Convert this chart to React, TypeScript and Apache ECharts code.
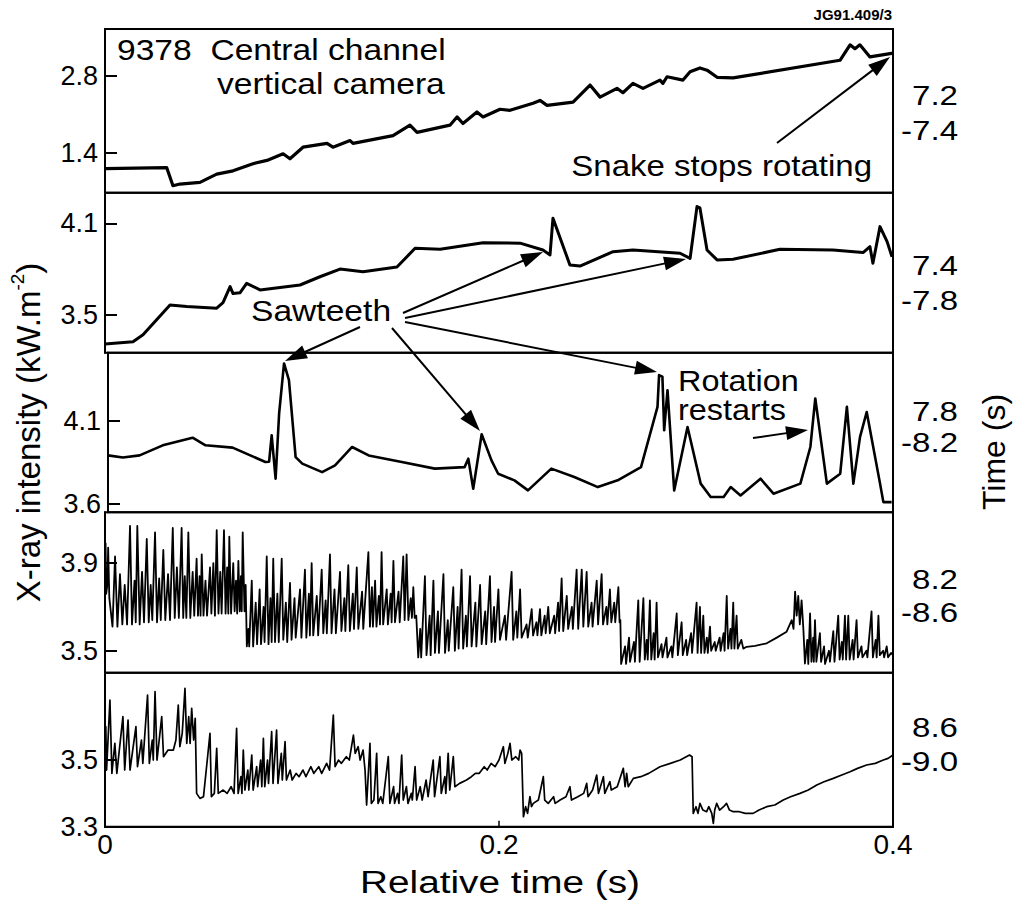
import React, { useEffect, useRef } from "react";
import * as echarts from "echarts";

const FONT = "'Liberation Sans', Arial, Helvetica, sans-serif";

// ---------- data ----------
const xTicks = [0, 0.2, 0.4];

const p1Ticks = [1.4, 2.8];
const p2Ticks = [3.5, 4.1];
const p3Ticks = [3.6, 4.1];
const p4Ticks = [3.5, 3.9];
const p5Ticks = [3.3, 3.5];

const timeWindows = [
  ["7.2", "-7.4"],
  ["7.4", "-7.8"],
  ["7.8", "-8.2"],
  ["8.2", "-8.6"],
  ["8.6", "-9.0"],
];

// Panel 1: central channel, vertical camera
const panel1: [number, number][] = [
  [0, 1.12], [0.0313, 1.14], [0.0345, 0.81], [0.038, 0.84], [0.0482, 0.87], [0.0567, 1.02],
  [0.065, 1.08], [0.0751, 1.21], [0.0822, 1.27], [0.0904, 1.39], [0.0939, 1.3], [0.1005, 1.51],
  [0.1127, 1.58], [0.1157, 1.51], [0.1244, 1.63], [0.1259, 1.58], [0.1462, 1.72], [0.1548, 1.91],
  [0.1584, 1.78], [0.1751, 1.91], [0.1787, 2.06], [0.1817, 1.94], [0.1888, 2.15], [0.1919, 2.06],
  [0.2005, 2.2], [0.2056, 2.18], [0.2173, 2.31], [0.2208, 2.36], [0.2244, 2.27], [0.2376, 2.33],
  [0.2462, 2.64], [0.2513, 2.42], [0.2599, 2.58], [0.2629, 2.5], [0.268, 2.67], [0.2731, 2.58],
  [0.2817, 2.73], [0.2832, 2.67], [0.2853, 2.79], [0.2934, 2.73], [0.297, 2.88], [0.302, 2.95],
  [0.3056, 2.91], [0.3107, 2.78], [0.3188, 2.77], [0.3731, 3.09], [0.3782, 3.37], [0.3807, 3.3],
  [0.3832, 3.37], [0.3883, 3.15], [0.3985, 3.21], [0.4, 3.22],
];

// Panel 2: 7.4 - 7.8 s
const panel2: [number, number][] = [
  [0, 3.31], [0.0142, 3.325], [0.0193, 3.37], [0.033, 3.565], [0.0415, 3.555], [0.0567, 3.544],
  [0.0599, 3.58], [0.0635, 3.685], [0.065, 3.64], [0.0685, 3.645], [0.0719, 3.707], [0.0787, 3.664],
  [0.099, 3.696], [0.1091, 3.75], [0.1193, 3.8], [0.131, 3.783], [0.1482, 3.814], [0.1574, 3.936],
  [0.1701, 3.93], [0.1919, 3.973], [0.2107, 3.97], [0.2223, 3.925], [0.2259, 3.893], [0.2274, 4.133],
  [0.236, 3.827], [0.2411, 3.82], [0.2579, 3.914], [0.268, 3.925], [0.2919, 3.904], [0.297, 3.87],
  [0.3005, 4.209], [0.302, 4.2], [0.3056, 3.925], [0.3107, 3.86], [0.3188, 3.864], [0.3426, 3.93],
  [0.3695, 3.925], [0.3848, 3.908], [0.3883, 3.947], [0.3898, 3.838], [0.3934, 4.078], [0.397, 3.98],
  [0.3995, 3.88],
];

// Panel 3: 7.8 - 8.2 s
const panel3: [number, number][] = [
  [0, 3.893], [0.0076, 3.88], [0.0161, 3.893], [0.0279, 3.954], [0.0431, 4.0], [0.0497, 3.954],
  [0.0635, 3.94], [0.0802, 3.853], [0.0821, 3.855], [0.0834, 4.015], [0.0854, 3.752], [0.0872, 4.147],
  [0.0897, 4.45], [0.0922, 4.349], [0.0956, 3.883], [0.099, 3.843], [0.1091, 3.792], [0.1157, 3.833],
  [0.1244, 3.944], [0.1328, 3.893], [0.1497, 3.853], [0.1665, 3.813], [0.1817, 3.822], [0.1836, 3.873],
  [0.1861, 3.691], [0.1904, 4.021], [0.1954, 3.863], [0.1988, 3.782], [0.2071, 3.742], [0.214, 3.681],
  [0.2259, 3.813], [0.2376, 3.762], [0.2496, 3.701], [0.2597, 3.742], [0.2716, 3.822], [0.28, 4.187],
  [0.2808, 4.379], [0.2825, 4.37], [0.2834, 4.045], [0.2851, 4.288], [0.2885, 3.681], [0.2953, 4.065],
  [0.302, 3.722], [0.3071, 3.641], [0.3137, 3.641], [0.3173, 3.701], [0.3223, 3.65], [0.3325, 3.752],
  [0.3391, 3.661], [0.3528, 3.722], [0.3579, 3.944], [0.3604, 4.238], [0.3663, 3.722], [0.3731, 3.782],
  [0.3765, 4.187], [0.3798, 3.722], [0.3832, 4.005], [0.3866, 4.156], [0.3934, 3.722], [0.3951, 3.61],
  [0.3993, 3.61],
];

// Panel 4: 8.2 - 8.6 s (dense sawteeth)
const panel4: [number, number][] = [
  [0, 3.73], [0.0003, 3.99], [0.0006, 3.76], [0.0012, 3.8], [0.0016, 3.97], [0.0022, 3.74], [0.0038, 3.61],
  [0.0051, 3.93], [0.0063, 3.61], [0.0076, 3.85], [0.0088, 3.62], [0.01, 3.8], [0.0112, 3.62],
  [0.0127, 4.07], [0.0137, 3.62], [0.015, 3.82], [0.0156, 3.63], [0.0164, 4.07], [0.0176, 3.62],
  [0.0188, 3.86], [0.0198, 3.63], [0.0212, 4.01], [0.0222, 3.63], [0.0232, 3.8], [0.024, 3.64],
  [0.0254, 4.04], [0.0264, 3.63], [0.0275, 3.83], [0.0283, 3.64], [0.0296, 3.96], [0.0306, 3.64],
  [0.032, 3.85], [0.033, 3.64], [0.0344, 4.06], [0.0354, 3.65], [0.0365, 3.88], [0.0375, 3.65],
  [0.0389, 4.06], [0.0397, 3.65], [0.0405, 3.84], [0.0413, 3.65], [0.0423, 4.04], [0.0433, 3.65],
  [0.0445, 3.86], [0.0453, 3.66], [0.0465, 3.92], [0.0472, 3.66], [0.048, 3.84], [0.0485, 3.66],
  [0.0491, 3.94], [0.05, 3.66], [0.051, 3.82], [0.0518, 3.66], [0.0533, 3.88], [0.054, 3.67],
  [0.055, 3.9], [0.0558, 3.66], [0.0567, 4.05], [0.0576, 3.67], [0.0585, 3.86], [0.0592, 3.67],
  [0.0604, 4.05], [0.0612, 3.67], [0.062, 3.88], [0.0626, 3.67], [0.0631, 4.02], [0.064, 3.67],
  [0.0651, 3.9], [0.0658, 3.68], [0.0665, 3.82], [0.0671, 3.67], [0.0677, 3.91], [0.0684, 3.68],
  [0.069, 3.84], [0.0694, 3.68], [0.0699, 4.04], [0.0708, 3.68], [0.0714, 3.8], [0.072, 3.52],
  [0.0728, 3.6], [0.0732, 3.52], [0.0745, 3.82], [0.0752, 3.52], [0.0765, 3.72], [0.0772, 3.53],
  [0.0785, 3.78], [0.0792, 3.53], [0.0805, 3.7], [0.081, 3.54], [0.0821, 3.93], [0.083, 3.53],
  [0.084, 3.74], [0.0846, 3.54], [0.0854, 3.92], [0.0863, 3.54], [0.0875, 3.76], [0.0882, 3.54],
  [0.0897, 3.92], [0.0905, 3.55], [0.0918, 3.72], [0.0925, 3.54], [0.0939, 3.81], [0.0947, 3.55],
  [0.0962, 3.74], [0.0968, 3.56], [0.099, 3.78], [0.0997, 3.56], [0.1015, 3.87], [0.1022, 3.56],
  [0.1035, 3.76], [0.104, 3.57], [0.1049, 3.9], [0.1057, 3.57], [0.1075, 3.75], [0.1082, 3.57],
  [0.11, 3.87], [0.1108, 3.58], [0.112, 3.73], [0.1126, 3.58], [0.1142, 3.94], [0.115, 3.58],
  [0.1165, 3.78], [0.1172, 3.58], [0.1193, 3.86], [0.12, 3.59], [0.1215, 3.74], [0.122, 3.59],
  [0.1235, 3.89], [0.1243, 3.59], [0.1258, 3.76], [0.1264, 3.6], [0.1278, 3.88], [0.1286, 3.6],
  [0.1305, 3.77], [0.1311, 3.6], [0.1337, 3.95], [0.1345, 3.61], [0.1355, 3.79], [0.136, 3.61],
  [0.1371, 3.82], [0.1378, 3.61], [0.139, 3.75], [0.1396, 3.62], [0.1404, 3.95], [0.1412, 3.62],
  [0.143, 3.78], [0.1436, 3.62], [0.145, 3.76], [0.1455, 3.63], [0.1464, 3.91], [0.1472, 3.63],
  [0.149, 3.77], [0.1496, 3.63], [0.1514, 3.93], [0.1521, 3.64], [0.1531, 3.94], [0.154, 3.64],
  [0.1552, 3.74], [0.1558, 3.65], [0.1565, 3.79], [0.1572, 3.65], [0.158, 3.66], [0.159, 3.47],
  [0.16, 3.6], [0.1605, 3.47], [0.1624, 3.84], [0.1632, 3.48], [0.1648, 3.66], [0.1653, 3.48],
  [0.1667, 3.82], [0.1675, 3.49], [0.169, 3.68], [0.1695, 3.49], [0.1718, 3.85], [0.1726, 3.49],
  [0.174, 3.64], [0.1745, 3.5], [0.1768, 3.79], [0.1776, 3.5], [0.179, 3.7], [0.1795, 3.51],
  [0.181, 3.87], [0.1818, 3.51], [0.1832, 3.66], [0.1837, 3.52], [0.1853, 3.84], [0.1861, 3.52],
  [0.188, 3.72], [0.1885, 3.52], [0.1904, 3.8], [0.1912, 3.53], [0.193, 3.68], [0.1935, 3.53],
  [0.1954, 3.84], [0.1962, 3.54], [0.1975, 3.7], [0.198, 3.54], [0.1997, 3.78], [0.2005, 3.55],
  [0.203, 3.66], [0.2036, 3.55], [0.2064, 3.86], [0.2072, 3.55], [0.2088, 3.68], [0.2093, 3.56],
  [0.2107, 3.78], [0.2115, 3.56], [0.214, 3.62], [0.2146, 3.56], [0.2166, 3.69], [0.2173, 3.57],
  [0.219, 3.63], [0.2195, 3.57], [0.2208, 3.69], [0.2215, 3.57], [0.2232, 3.66], [0.2237, 3.58],
  [0.225, 3.7], [0.2258, 3.58], [0.228, 3.66], [0.2285, 3.58], [0.23, 3.72], [0.2305, 3.59],
  [0.2318, 3.83], [0.2326, 3.59], [0.2344, 3.75], [0.2351, 3.6], [0.237, 3.7], [0.2375, 3.6],
  [0.2394, 3.87], [0.2402, 3.6], [0.242, 3.87], [0.2428, 3.61], [0.2445, 3.86], [0.2453, 3.61],
  [0.247, 3.72], [0.2475, 3.61], [0.2496, 3.82], [0.2503, 3.62], [0.2521, 3.85], [0.2528, 3.62],
  [0.2545, 3.7], [0.255, 3.62], [0.2563, 3.78], [0.257, 3.63], [0.2585, 3.72], [0.259, 3.63],
  [0.2606, 3.79], [0.2612, 3.63], [0.2616, 3.64], [0.262, 3.44],
  [0.264, 3.52], [0.2645, 3.44], [0.266, 3.56], [0.2665, 3.45], [0.2685, 3.54], [0.269, 3.45],
  [0.2707, 3.73], [0.2714, 3.45], [0.2733, 3.74], [0.274, 3.46], [0.275, 3.55], [0.2755, 3.46],
  [0.2766, 3.73], [0.2773, 3.46], [0.2785, 3.58], [0.279, 3.46], [0.28, 3.72], [0.2807, 3.47],
  [0.2825, 3.53], [0.283, 3.47], [0.285, 3.56], [0.2855, 3.47], [0.2875, 3.52], [0.288, 3.47],
  [0.2902, 3.67], [0.2908, 3.48], [0.2927, 3.63], [0.2933, 3.48], [0.295, 3.55], [0.2955, 3.48],
  [0.2975, 3.58], [0.298, 3.49], [0.3003, 3.72], [0.3008, 3.49], [0.302, 3.7], [0.3026, 3.49],
  [0.3037, 3.66], [0.3043, 3.49], [0.3055, 3.56], [0.306, 3.49], [0.3071, 3.61], [0.3077, 3.5],
  [0.3095, 3.54], [0.31, 3.5], [0.312, 3.56], [0.3125, 3.5], [0.314, 3.58], [0.3145, 3.5],
  [0.3156, 3.75], [0.3163, 3.51], [0.3175, 3.6], [0.318, 3.51], [0.3189, 3.72], [0.3195, 3.51],
  [0.3206, 3.66], [0.3212, 3.51], [0.323, 3.55], [0.324, 3.51],
  [0.3257, 3.518], [0.33, 3.522], [0.3359, 3.534], [0.341, 3.56], [0.346, 3.587], [0.3486, 3.64],
  [0.3495, 3.6], [0.3503, 3.77], [0.3511, 3.66], [0.3519, 3.75], [0.3527, 3.62], [0.3536, 3.73],
  [0.3545, 3.6], [0.3553, 3.442],
  [0.3565, 3.55], [0.357, 3.44], [0.3579, 3.67], [0.3586, 3.45], [0.3595, 3.56], [0.3598, 3.45],
  [0.3604, 3.64], [0.3611, 3.45], [0.3629, 3.58], [0.3635, 3.45], [0.365, 3.52], [0.3655, 3.44],
  [0.3675, 3.5], [0.368, 3.45], [0.3697, 3.59], [0.3703, 3.45], [0.3722, 3.66], [0.3729, 3.46],
  [0.374, 3.54], [0.3745, 3.46], [0.3756, 3.66], [0.3762, 3.46], [0.3773, 3.66], [0.378, 3.46],
  [0.3795, 3.55], [0.38, 3.46], [0.3815, 3.64], [0.3822, 3.47], [0.384, 3.52], [0.3845, 3.47],
  [0.3865, 3.5], [0.387, 3.47], [0.3891, 3.68], [0.3898, 3.47], [0.3912, 3.55], [0.3917, 3.47],
  [0.3926, 3.66], [0.3933, 3.48], [0.395, 3.5], [0.3955, 3.47], [0.3968, 3.52], [0.3975, 3.47],
  [0.399, 3.49], [0.4, 3.48],
];

// Panel 5: 8.6 - 9.0 s
const panel5: [number, number][] = [
  [0, 3.45], [0.0004, 3.6], [0.0008, 3.47], [0.0025, 3.68], [0.0035, 3.46], [0.005, 3.55],
  [0.006, 3.46], [0.0091, 3.63], [0.01, 3.47], [0.0117, 3.62], [0.0127, 3.47], [0.0157, 3.6],
  [0.0165, 3.48], [0.0185, 3.56], [0.0192, 3.49], [0.0216, 3.695], [0.0225, 3.49], [0.024, 3.56],
  [0.0245, 3.5], [0.0254, 3.705], [0.0264, 3.5], [0.0288, 3.63], [0.0297, 3.51], [0.032, 3.53],
  [0.0347, 3.53], [0.036, 3.56], [0.0372, 3.665], [0.038, 3.54], [0.0392, 3.58], [0.0406, 3.715],
  [0.0415, 3.55], [0.0425, 3.63], [0.0432, 3.55], [0.044, 3.655], [0.045, 3.56], [0.0458, 3.625],
  [0.0465, 3.4], [0.0482, 3.385],
  [0.05, 3.39], [0.0533, 3.58], [0.054, 3.39], [0.0555, 3.4], [0.0567, 3.535], [0.0575, 3.4],
  [0.06, 3.41], [0.062, 3.4], [0.064, 3.42], [0.0655, 3.4], [0.0668, 3.595], [0.0676, 3.4],
  [0.069, 3.45], [0.0695, 3.4], [0.0702, 3.53], [0.071, 3.41], [0.0725, 3.47], [0.073, 3.41],
  [0.0745, 3.515], [0.0752, 3.41], [0.077, 3.48], [0.0775, 3.42], [0.079, 3.5], [0.0796, 3.42],
  [0.0804, 3.565], [0.0811, 3.42], [0.0825, 3.5], [0.083, 3.43], [0.0846, 3.585], [0.0853, 3.43],
  [0.0871, 3.59], [0.0878, 3.43], [0.0895, 3.52], [0.09, 3.44], [0.0914, 3.555], [0.0921, 3.44],
  [0.094, 3.47], [0.095, 3.44], [0.097, 3.46], [0.0985, 3.45], [0.1005, 3.47], [0.102, 3.45],
  [0.1045, 3.48], [0.106, 3.46], [0.1085, 3.48], [0.11, 3.46], [0.1125, 3.49], [0.114, 3.47],
  [0.1159, 3.635], [0.1168, 3.48], [0.1185, 3.5], [0.12, 3.49], [0.1225, 3.51], [0.124, 3.5],
  [0.1261, 3.575], [0.127, 3.52], [0.1285, 3.54], [0.1295, 3.5], [0.131, 3.53], [0.132, 3.47],
  [0.1328, 3.365], [0.1345, 3.55], [0.1352, 3.37], [0.1365, 3.38], [0.1379, 3.52], [0.1386, 3.37],
  [0.14, 3.39], [0.141, 3.37], [0.1438, 3.51], [0.1446, 3.37], [0.1465, 3.42], [0.147, 3.37],
  [0.1485, 3.4], [0.1492, 3.37], [0.1506, 3.515], [0.1514, 3.38], [0.153, 3.42], [0.1538, 3.37],
  [0.1555, 3.4], [0.156, 3.38], [0.1574, 3.48], [0.1582, 3.38], [0.16, 3.42], [0.161, 3.38],
  [0.163, 3.44], [0.164, 3.39], [0.1666, 3.5], [0.1673, 3.39], [0.17, 3.51], [0.1707, 3.4],
  [0.1725, 3.45], [0.173, 3.4], [0.1742, 3.52], [0.175, 3.41], [0.1768, 3.51], [0.1776, 3.42],
  [0.18, 3.43], [0.1835, 3.44], [0.186, 3.45], [0.188, 3.46], [0.19, 3.46], [0.1925, 3.48],
  [0.194, 3.47], [0.196, 3.49], [0.198, 3.48], [0.2, 3.5], [0.2022, 3.54], [0.203, 3.49],
  [0.2045, 3.52], [0.2056, 3.55], [0.2065, 3.5], [0.2085, 3.51], [0.21, 3.5], [0.2107, 3.53],
  [0.2115, 3.52], [0.2124, 3.33],
  [0.2135, 3.36], [0.2145, 3.34], [0.2157, 3.39], [0.2165, 3.36], [0.2174, 3.37], [0.22, 3.38],
  [0.2225, 3.45], [0.2232, 3.38], [0.225, 3.37], [0.2277, 3.39], [0.2285, 3.37], [0.231, 3.38],
  [0.234, 3.39], [0.236, 3.42], [0.2368, 3.38], [0.24, 3.39], [0.243, 3.4], [0.2445, 3.43],
  [0.2452, 3.39], [0.2475, 3.41], [0.2496, 3.455], [0.2505, 3.4], [0.253, 3.45], [0.2537, 3.4],
  [0.2563, 3.435], [0.257, 3.41], [0.26, 3.42], [0.2631, 3.475], [0.264, 3.42], [0.2648, 3.46],
  [0.2656, 3.42], [0.2682, 3.445], [0.272, 3.45], [0.276, 3.46], [0.2817, 3.48], [0.287, 3.49],
  [0.292, 3.5], [0.2967, 3.515], [0.298, 3.51], [0.2986, 3.34],
  [0.3, 3.36], [0.301, 3.34], [0.302, 3.37], [0.3035, 3.35], [0.3054, 3.345], [0.3065, 3.36],
  [0.308, 3.34], [0.3088, 3.31], [0.3095, 3.35], [0.3105, 3.37], [0.312, 3.35], [0.314, 3.36],
  [0.3155, 3.37], [0.317, 3.35], [0.3189, 3.345], [0.322, 3.345], [0.325, 3.34], [0.329, 3.34],
  [0.332, 3.35], [0.3359, 3.36], [0.34, 3.365], [0.3443, 3.38], [0.348, 3.39], [0.3528, 3.4],
  [0.357, 3.41], [0.3613, 3.425], [0.365, 3.435], [0.3697, 3.445], [0.374, 3.455], [0.3782, 3.465],
  [0.382, 3.475], [0.3866, 3.485], [0.391, 3.49], [0.3951, 3.5], [0.3975, 3.505], [0.4, 3.515],
];

// ---------- layout ----------
const PLOT_LEFT = 105;
const PLOT_RIGHT = 124;
const panels = [
  { top: 29, height: 163.7, min: 0.683, max: 3.658, ticks: p1Ticks, data: panel1, width: 3.2 },
  { top: 192.7, height: 160, min: 3.253, max: 4.3, ticks: p2Ticks, data: panel2, width: 3 },
  { top: 352.7, height: 159.5, min: 3.549, max: 4.515, ticks: p3Ticks, data: panel3, width: 2.6 },
  { top: 512.2, height: 160.5, min: 3.4, max: 4.132, ticks: p4Ticks, data: panel4, width: 1.8 },
  { top: 672.7, height: 154, min: 3.3, max: 3.762, ticks: p5Ticks, data: panel5, width: 1.7 },
];

function arrow(x1: number, y1: number, x2: number, y2: number, head = 22, half = 7) {
  const a = Math.atan2(y2 - y1, x2 - x1);
  const bx = x2 - head * Math.cos(a);
  const by = y2 - head * Math.sin(a);
  const px = -Math.sin(a) * half;
  const py = Math.cos(a) * half;
  return [
    { type: "line", silent: true, shape: { x1, y1, x2: bx + 2 * Math.cos(a), y2: by + 2 * Math.sin(a) }, style: { stroke: "#000", lineWidth: 2 } },
    { type: "polygon", silent: true, shape: { points: [[x2, y2], [bx + px, by + py], [bx - px, by - py]] }, style: { fill: "#000" } },
  ];
}

function label(text: string, x: number, y: number, size: number, align: string, sx = 1.12, extra: any = {}) {
  return {
    type: "text",
    silent: true,
    x,
    y,
    scaleX: sx,
    style: { text, fontSize: size, fontFamily: FONT, fill: "#000", align, verticalAlign: "middle", ...extra },
  };
}

export default function App() {
  const ref = useRef<HTMLDivElement>(null);

  useEffect(() => {
    if (!ref.current) return;
    const chart = echarts.init(ref.current, null, { renderer: "svg" });

    const grid = panels.map((p) => ({
      left: PLOT_LEFT,
      right: PLOT_RIGHT,
      top: p.top,
      height: p.height,
      show: true,
      borderColor: "#000",
      borderWidth: 2,
      backgroundColor: "transparent",
    }));

    const last = panels.length - 1;
    const xAxis = panels.map((_, i) => ({
      type: "value",
      gridIndex: i,
      min: xTicks[0],
      max: xTicks[xTicks.length - 1],
      interval: 0.2,
      show: i === last,
      axisLine: { show: true, lineStyle: { color: "#000", width: 2 } },
      axisTick: { show: true, inside: true, length: 6, lineStyle: { color: "#000", width: 1.5 } },
      splitLine: { show: false },
      axisLabel: {
        show: i === last,
        fontSize: 28,
        fontFamily: FONT,
        color: "#000",
        margin: 4,
        formatter: (v: number) => (v === 0 ? "0" : v.toFixed(1)),
      },
    }));

    const yAxis = panels.map((p, i) => ({
      type: "value",
      gridIndex: i,
      min: p.min,
      max: p.max,
      splitLine: { show: false },
      axisLine: { show: true, lineStyle: { color: "#000", width: 2 } },
      axisTick: { show: true, inside: true, length: 12, customValues: p.ticks, lineStyle: { color: "#000", width: 2 } },
      axisLabel: {
        fontSize: 27,
        fontFamily: FONT,
        color: "#000",
        margin: 7,
        customValues: p.ticks,
        formatter: (v: number) => v.toFixed(1),
      },
      name: i === 2 ? "X-ray intensity (kW.m{sup|-2})" : "",
      nameLocation: "middle",
      nameGap: 60,
      nameRotate: 90,
      nameTextStyle: {
        fontSize: 33,
        fontFamily: FONT,
        color: "#000",
        rich: { sup: { fontSize: 19, fontFamily: FONT, color: "#000", verticalAlign: "top", lineHeight: 40 } },
      },
    }));

    const series = panels.map((p, i) => ({
      type: "line",
      xAxisIndex: i,
      yAxisIndex: i,
      data: p.data,
      showSymbol: false,
      symbol: "none",
      clip: true,
      lineStyle: { color: "#000", width: p.width, join: "round" },
    }));

    // right-hand time window labels, centred on each panel
    const windowCenters = [[95, 130], [265, 300], [411, 442], [579, 612], [727, 761]];
    const rightLabels: any[] = [];
    timeWindows.forEach((w, i) => {
      rightLabels.push(label(w[0], 958, windowCenters[i][0], 28, "right", 1.18));
      rightLabels.push(label(w[1], 958, windowCenters[i][1], 28, "right", 1.18));
    });

    const graphic: any[] = [
      label("9378  Central channel", 117, 50, 30, "left", 1.12),
      label("vertical camera", 217, 84, 30, "left", 1.12),
      label("Snake stops rotating", 872, 166, 30, "right", 1.1),
      label("JG91.409/3", 892, 14, 15, "right", 1.0, { fontWeight: "bold" }),
      label("Sawteeth", 251, 311, 30, "left", 1.12),
      label("Rotation", 678, 381, 30, "left", 1.08),
      label("restarts", 678, 410, 30, "left", 1.08),
      label("Relative time (s)", 500, 882, 31, "center", 1.25),
      ...rightLabels,
      {
        type: "text",
        silent: true,
        x: 994,
        y: 452,
        rotation: Math.PI / 2,
        style: { text: "Time (s)", fontSize: 32, fontFamily: FONT, fill: "#000", align: "center", verticalAlign: "middle" },
      },
      ...arrow(777, 143, 890, 57),
      ...arrow(403, 313, 543, 252),
      ...arrow(405, 318, 686, 259),
      ...arrow(405, 322, 657, 372),
      ...arrow(360, 327, 285, 361),
      ...arrow(392, 328, 480, 431),
      ...arrow(753, 438, 808, 430),
    ];

    chart.setOption({
      animation: false,
      backgroundColor: "#fff",
      grid,
      xAxis,
      yAxis,
      series,
      graphic,
    });

    return () => chart.dispose();
  }, []);

  return <div ref={ref} style={{ position: "absolute", left: 0, top: 0, width: 1017, height: 907 }} />;
}
